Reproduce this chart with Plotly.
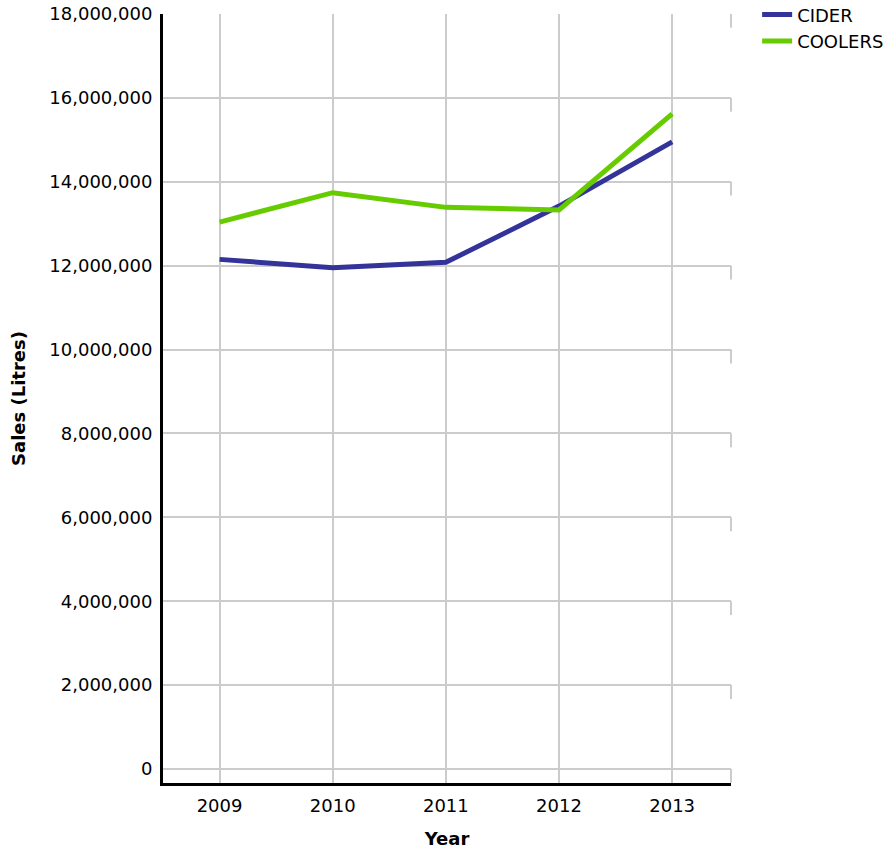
import plotly.graph_objects as go

years = [2009, 2010, 2011, 2012, 2013]
cider = [12150000, 11950000, 12080000, 13420000, 14950000]
coolers = [13040000, 13740000, 13390000, 13330000, 15620000]
y_ticks = [0, 2000000, 4000000, 6000000, 8000000, 10000000, 12000000, 14000000, 16000000, 18000000]
y_tick_text = [f"{v:,}" for v in y_ticks]

FONT = "Verdana, DejaVu Sans, sans-serif"

fig = go.Figure()
fig.add_trace(go.Scatter(x=years, y=cider, name="CIDER", mode="lines",
                         line=dict(color="#333399", width=5)))
fig.add_trace(go.Scatter(x=years, y=coolers, name="COOLERS", mode="lines",
                         line=dict(color="#66CC00", width=5)))

# small vertical ticks at the right end of each horizontal gridline
for v in y_ticks:
    fig.add_shape(type="line", xref="paper", yref="y", x0=1, x1=1,
                  y0=v, y1=v - 330000, line=dict(color="#CCCCCC", width=2), layer="below")

fig.update_layout(
    width=888, height=850,
    margin=dict(l=163, r=157, t=14, b=67, autoexpand=False),
    paper_bgcolor="white", plot_bgcolor="white",
    font=dict(family=FONT, size=18, color="black"),
    showlegend=True,
    legend=dict(x=1.046, y=1.023, xanchor="left", yanchor="top",
                font=dict(family=FONT, size=18), tracegroupgap=0,
                itemwidth=30, bgcolor="rgba(0,0,0,0)"),
    xaxis=dict(
        range=[2008.5, 2013.52], tickvals=years, ticktext=[str(y) for y in years],
        showgrid=True, gridcolor="#CCCCCC", gridwidth=2,
        showline=True, linecolor="black", linewidth=3,
        zeroline=False, ticks="", ticklabelstandoff=4, automargin=False,
        title=dict(text="<b>Year</b>", standoff=18, font=dict(size=18)),
    ),
    yaxis=dict(
        range=[-333700, 18000000], tickvals=y_ticks, ticktext=y_tick_text,
        showgrid=True, gridcolor="#CCCCCC", gridwidth=2,
        showline=True, linecolor="black", linewidth=3,
        zeroline=False, ticks="", ticklabelstandoff=4, automargin=False,
        title=dict(text="<b>Sales (Litres)</b>", standoff=20, font=dict(size=18)),
    ),
)

fig.write_html("out.html", config={"displayModeBar": False},
               post_script="document.body.style.margin='0';")
